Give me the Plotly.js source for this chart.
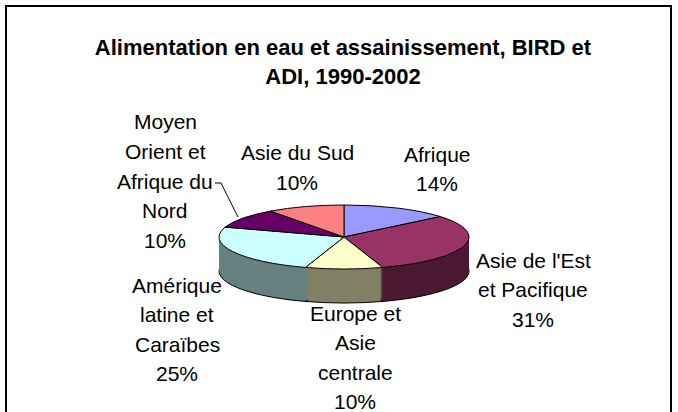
<!DOCTYPE html>
<html>
<head>
<meta charset="utf-8">
<script src="https://cdn.plot.ly/plotly-3.0.1.min.js"></script>
<style>
  html, body { margin: 0; padding: 0; background: #ffffff; }
  #chart { width: 678px; height: 412px; }
  .pielayer path.surface { vector-effect: non-scaling-stroke; }
</style>
</head>
<body>
<div id="chart"></div>
<script>
// ---- Data ----
const categories = [
  "Afrique",
  "Asie de l'Est et Pacifique",
  "Europe et Asie centrale",
  "Amérique latine et Caraïbes",
  "Moyen Orient et Afrique du Nord",
  "Asie du Sud"
];
const values = [14, 31, 10, 25, 10, 10];
const labelLines = [
  ["Afrique"],
  ["Asie de l'Est", "et Pacifique"],
  ["Europe et", "Asie", "centrale"],
  ["Amérique", "latine et", "Caraïbes"],
  ["Moyen", "Orient et", "Afrique du", "Nord"],
  ["Asie du Sud"]
];
const titleText = "Alimentation en eau et assainissement, BIRD et<br>ADI, 1990-2002";

// ---- Styles / layout constants ----
const topColors  = ["#9999FF", "#993366", "#FFFFCC", "#CCFFFF", "#660066", "#FF8080"];
const sideColors = ["#4D4D80", "#4C1933", "#808066", "#668080", "#330033", "#804040"];
const W = 678, H = 412;
const PIE_CX = 344, PIE_CY = 237, PIE_R = 125, TILT = 32 / 125, DEPTH = 34, STEP = 2;
const labelPos = [[437, 154], [533, 260], [355, 313], [177, 285], [165, 122], [297, 153]];
const LINE_GAP = 29.6;
const FONT = "Liberation Sans, Arial, Helvetica, sans-serif";

const px = x => x / W;
const py = y => 1 - y / H;

const domain = {
  x: [px(PIE_CX - PIE_R), px(PIE_CX + PIE_R)],
  y: [py(PIE_CY + PIE_R), py(PIE_CY - PIE_R)]
};

function pieTrace(colors, lineWidth) {
  return {
    type: 'pie',
    labels: categories,
    values: values,
    sort: false,
    direction: 'clockwise',
    rotation: 0,
    textinfo: 'none',
    hoverinfo: 'none',
    showlegend: false,
    domain: domain,
    marker: { colors: colors, line: { color: '#000000', width: lineWidth } }
  };
}

// side layers (deepest first), then the top face
const offsets = [];
for (let d = DEPTH; d > 0; d -= STEP) offsets.push(d);
const traces = offsets.map((d, i) => pieTrace(sideColors, i === 0 ? 1 : 0));
offsets.push(0);
traces.push(pieTrace(topColors, 1));

// labels: one annotation per line
const annotations = [];
labelLines.forEach((lines, i) => {
  const all = lines.concat([values[i] + '%']);
  all.forEach((t, j) => {
    annotations.push({
      xref: 'paper', yref: 'paper',
      x: px(labelPos[i][0]), y: py(labelPos[i][1] + j * LINE_GAP),
      xanchor: 'center', yanchor: 'middle',
      text: t, showarrow: false,
      font: { family: FONT, size: 21, color: '#000000' }
    });
  });
});

const layout = {
  width: W, height: H,
  margin: { l: 0, r: 0, t: 0, b: 0 },
  paper_bgcolor: '#ffffff',
  plot_bgcolor: '#ffffff',
  showlegend: false,
  title: {
    text: '<b>' + titleText + '</b>',
    font: { family: FONT, size: 22, color: '#000000' },
    x: px(343), xanchor: 'center',
    y: py(55), yanchor: 'top',
    xref: 'paper', yref: 'container'
  },
  annotations: annotations,
  shapes: [
    {
      type: 'rect', xref: 'paper', yref: 'paper',
      x0: px(6), x1: px(671), y0: py(440), y1: py(6),
      line: { color: '#000000', width: 2 }, fillcolor: 'rgba(0,0,0,0)'
    },
    {
      type: 'path', xref: 'paper', yref: 'paper',
      path: 'M ' + px(215) + ' ' + py(183) + ' L ' + px(221) + ' ' + py(183) + ' L ' + px(238) + ' ' + py(217),
      line: { color: '#000000', width: 1 }
    }
  ]
};

Plotly.newPlot('chart', traces, layout, { staticPlot: true, displayModeBar: false }).then(gd => {
  const groups = gd.querySelectorAll('.pielayer .trace');
  groups.forEach((g, i) => {
    const d = offsets[i] || 0;
    g.setAttribute('transform',
      'translate(0,' + (PIE_CY + d) + ') scale(1,' + TILT + ') translate(0,' + (-PIE_CY) + ')');
  });
});
</script>
</body>
</html>
